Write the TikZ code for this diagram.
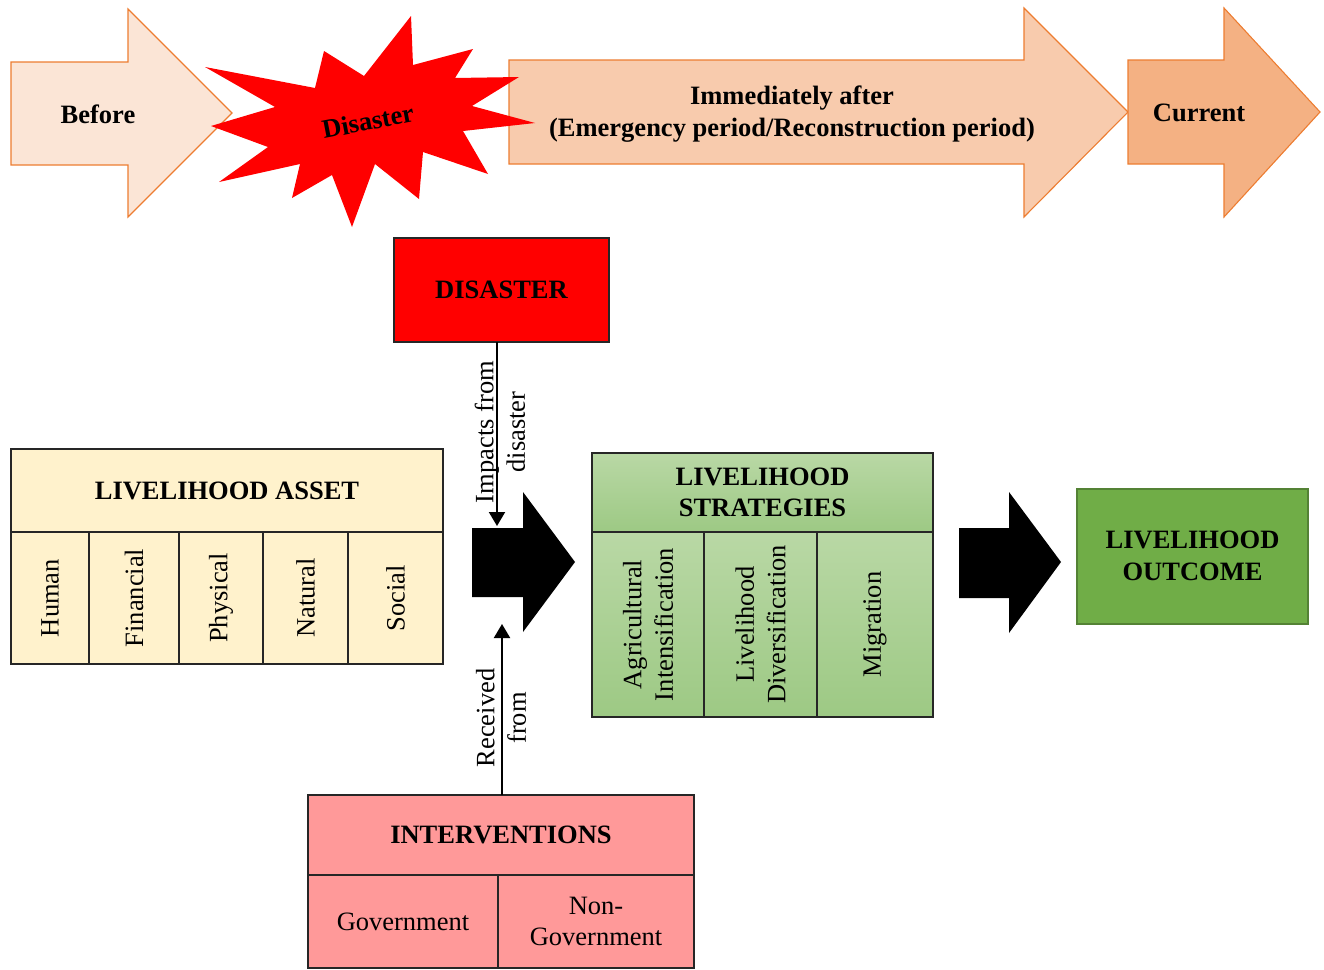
\documentclass[tikz,border=0pt]{standalone}
\usepackage{fontspec}
\setmainfont{Liberation Serif}
\usetikzlibrary{arrows.meta,calc}

\definecolor{peachA}{HTML}{FBE5D6}
\definecolor{peachB}{HTML}{F8CBAD}
\definecolor{peachC}{HTML}{F4B183}
\definecolor{orangeEdge}{HTML}{ED7D31}
\definecolor{assetFill}{HTML}{FFF2CC}
\definecolor{stratTop}{HTML}{B9D8A5}
\definecolor{stratBot}{HTML}{9DC984}
\definecolor{outFill}{HTML}{70AD47}
\definecolor{outEdge}{HTML}{548235}
\definecolor{intFill}{HTML}{FF9999}
\definecolor{boxEdge}{HTML}{262626}

\begin{document}
\begin{tikzpicture}[x=1pt,y=-1pt,
  txt/.style={font=\fontsize{26.5pt}{31.5pt}\selectfont, align=center, inner sep=0pt},
  btxt/.style={font=\fontsize{26.5pt}{31.5pt}\selectfont\bfseries, align=center, inner sep=0pt},
  phase/.style={draw=orangeEdge, line width=1.1pt, line join=miter},
  cellbox/.style={draw=boxEdge, line width=1.5pt, inner sep=0pt, outer sep=0pt},
  stratcell/.style={cellbox, top color=stratTop, bottom color=stratBot},
  blockarrow/.style={fill=black},
  thinarrow/.style={draw=black, line width=2pt, -{Triangle[length=14pt,width=16pt]}}
]
\useasboundingbox (0,0) rectangle (1324,969);

% ---- timeline of phases ----
\path[phase, fill=peachA] (11,62) -- (128,62) -- (128,9) -- (232,113) -- (128,217) -- (128,165) -- (11,165) -- cycle;
\path[phase, fill=peachB] (509,60) -- (1024,60) -- (1024,8) -- (1128,112) -- (1024,217) -- (1024,164) -- (509,164) -- cycle;
\path[phase, fill=peachC] (1128,60) -- (1224,60) -- (1224,8) -- (1320,112) -- (1224,217) -- (1224,164) -- (1128,164) -- cycle;

% explosion burst
\fill[red] (205,67) -- (315,88) -- (324,51) -- (364,76) -- (411,16) -- (413,65)
  -- (473,49) -- (455,78) -- (519,77) -- (472,106) -- (535,123) -- (463,131)
  -- (488,174) -- (423,152) -- (419,199) -- (375,164) -- (352,227) -- (332,175)
  -- (292,198) -- (300,164) -- (219,182) -- (268,147) -- (211,126) -- (275,107) -- cycle;

\node[btxt] (tBefore) at (98,114) {Before};
\node[btxt, rotate=11] (tBurst) at (368,121) {Disaster};
\node[btxt] (tAfter) at (792,114) {Immediately after\\(Emergency period/Reconstruction period)};
\node[btxt] (tCurrent) at (1199,113) {Current};

% ---- disaster box ----
\node[cellbox, line width=2pt, fill=red, minimum width=215pt, minimum height=104pt, btxt] (dis) at (501.5,290) {DISASTER};

% ---- livelihood asset ----
\node[cellbox, fill=assetFill, minimum width=432pt, minimum height=83pt, btxt] (asset) at (227,490.5) {LIVELIHOOD ASSET};
\node[cellbox, fill=assetFill, minimum width=78pt, minimum height=132pt] (a1) at (50,598) {};
\node[cellbox, fill=assetFill, minimum width=90pt, minimum height=132pt] (a2) at (134,598) {};
\node[cellbox, fill=assetFill, minimum width=84pt, minimum height=132pt] (a3) at (221,598) {};
\node[cellbox, fill=assetFill, minimum width=85pt, minimum height=132pt] (a4) at (305.5,598) {};
\node[cellbox, fill=assetFill, minimum width=95pt, minimum height=132pt] (a5) at (395.5,598) {};
\node[txt, rotate=90] (la1) at (a1.center) {Human};
\node[txt, rotate=90] (la2) at (a2.center) {Financial};
\node[txt, rotate=90] (la3) at (a3.center) {Physical};
\node[txt, rotate=90] (la4) at (a4.center) {Natural};
\node[txt, rotate=90] (la5) at (a5.center) {Social};

% ---- livelihood strategies ----
\node[stratcell, minimum width=341pt, minimum height=79pt, btxt] (strat) at (762.5,492.5) {LIVELIHOOD\\STRATEGIES};
\node[stratcell, minimum width=112pt, minimum height=185pt] (s1) at (648,624.5) {};
\node[stratcell, minimum width=113pt, minimum height=185pt] (s2) at (760.5,624.5) {};
\node[stratcell, minimum width=116pt, minimum height=185pt] (s3) at (875,624.5) {};
\node[txt, rotate=90] (ls1) at (s1.center) {Agricultural\\Intensification};
\node[txt, rotate=90] (ls2) at (s2.center) {Livelihood\\Diversification};
\node[txt, rotate=90] (ls3) at (s3.center) {Migration};

% ---- livelihood outcome ----
\node[draw=outEdge, line width=2pt, fill=outFill, minimum width=231pt, minimum height=135pt, btxt] (outc) at (1192.5,556) {LIVELIHOOD\\OUTCOME};

% ---- interventions ----
\node[cellbox, line width=2pt, fill=intFill, minimum width=386pt, minimum height=80pt, btxt] (interv) at (501,835) {INTERVENTIONS};
\node[cellbox, line width=2pt, fill=intFill, minimum width=190pt, minimum height=93pt, txt] (gov) at (403,921.5) {Government};
\node[cellbox, line width=2pt, fill=intFill, minimum width=196pt, minimum height=93pt, txt] (ngo) at (596,921.5) {Non-\\Government};

% ---- block arrows between stages ----
\path[blockarrow] (472,528) -- (523,528) -- (523,492) -- (575,562) -- (523,632) -- (523,597) -- (472,597) -- cycle;
\path[blockarrow] (959,528) -- (1009,528) -- (1009,492) -- (1061,562) -- (1009,633) -- (1009,598) -- (959,598) -- cycle;

% ---- influence connectors ----
\coordinate (impactEnd) at (497,526);
\coordinate (aidEnd) at (502,624);
\draw[thinarrow] (dis.south -| impactEnd) -- (impactEnd);
\draw[thinarrow] (interv.north -| aidEnd) -- (aidEnd);
\node[txt, rotate=90] (limpact) at (500,432) {Impacts from\\disaster};
\node[txt, rotate=90] (laid) at (501,718) {Received\\from};
\end{tikzpicture}
\end{document}
